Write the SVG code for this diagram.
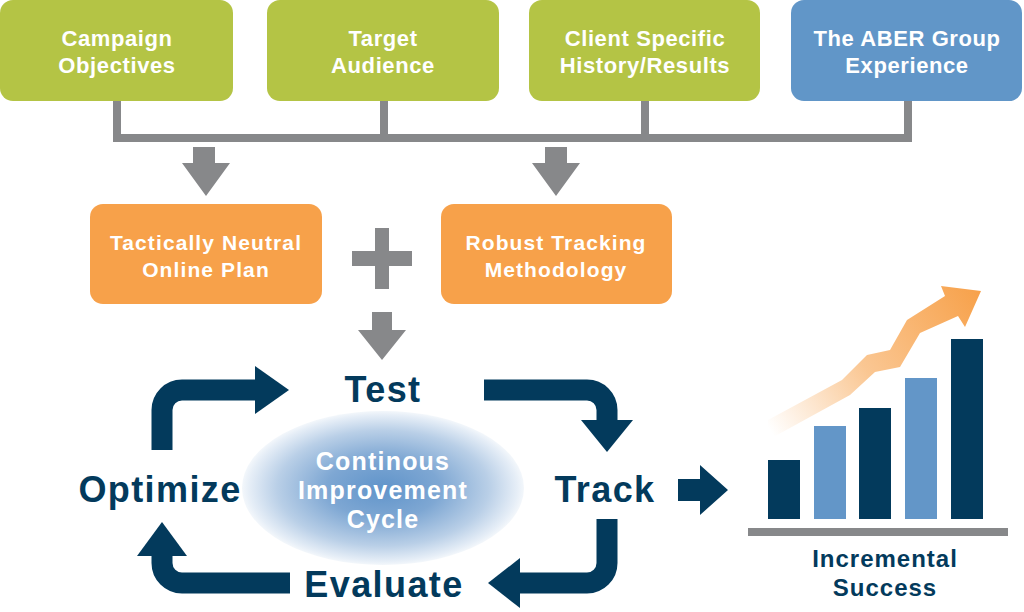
<svg xmlns="http://www.w3.org/2000/svg" width="1024" height="612" viewBox="0 0 1024 612">
<defs>
<style>
.lbl{font-family:"Liberation Sans",Arial,sans-serif;font-weight:bold;text-anchor:middle}
.top{font-size:22px;fill:#fff;letter-spacing:0.6px}
.mid{font-size:21px;fill:#fff;letter-spacing:1.1px}
.cyc{font-size:36px;fill:#033a5c;letter-spacing:1.4px}
.ell{font-size:25px;fill:#fff;letter-spacing:1.2px}
.inc{font-size:24px;fill:#033a5c;letter-spacing:1px}
.green{fill:#b4c445}
.blue{fill:#6196c8}
.orange{fill:#f7a14a}
.gray{fill:#87888a}
.navy{fill:#033a5c}
.lt{fill:#6396c8}
.bar{stroke:#033a5c;stroke-width:21;fill:none}
.conn{stroke:#87888a;stroke-width:8;fill:none}
</style>
<radialGradient id="eg" cx="0.5" cy="0.5" r="0.5">
<stop offset="0" stop-color="#6094ca"/>
<stop offset="0.4" stop-color="#7ea7d3"/>
<stop offset="0.75" stop-color="#b9cfe7"/>
<stop offset="0.95" stop-color="#e6eef7"/>
<stop offset="1" stop-color="#f3f7fb"/>
</radialGradient>
<linearGradient id="og" gradientUnits="userSpaceOnUse" x1="770" y1="430" x2="980" y2="290">
<stop offset="0" stop-color="#f7a14a" stop-opacity="0"/>
<stop offset="0.45" stop-color="#f7a14a" stop-opacity="0.6"/>
<stop offset="1" stop-color="#f7a14a" stop-opacity="1"/>
</linearGradient>
</defs>
<rect width="1024" height="612" fill="#fff"/>

<g id="connectors">
<path class="conn" d="M117,101 V138 H908 V101 M384,101 V138 M645,101 V138"/>
<polygon class="gray" points="193,147 215,147 215,163 230,163 206,196 182,163 193,163"/>
<polygon class="gray" points="545,147 567,147 567,163 580,163 556,196 532,163 545,163"/>
<g id="plus"><rect class="gray" x="352" y="251" width="60" height="15"/><rect class="gray" x="375" y="228" width="14" height="61"/></g>
<polygon class="gray" points="372,312 392,312 392,330 406,330 382,360 358,330 372,330"/>
<path class="bar" d="M162,450 V410 A20,20 0 0 1 182,390 H258"/>
<polygon class="navy" points="255,366 289,390 255,414"/>
<path class="bar" d="M484,390 H587 A20,20 0 0 1 607,410 V422"/>
<polygon class="navy" points="581,420 633,420 607,452"/>
<path class="bar" d="M607,519 V563 A20,20 0 0 1 587,583 H518"/>
<polygon class="navy" points="520,558 488,583 520,608"/>
<path class="bar" d="M290,583 H182 A20,20 0 0 1 162,563 V553"/>
<polygon class="navy" points="137,556 187,556 162,522"/>
<polygon class="navy" points="678,479 700,479 700,465 728,490 700,515 700,501 678,501"/>
</g>

<g id="campaign"><rect class="green" x="0" y="0" width="233" height="101" rx="13"/><text class="lbl top" x="117" y="46">Campaign</text><text class="lbl top" x="117" y="73">Objectives</text></g>
<g id="target"><rect class="green" x="267" y="0" width="232" height="101" rx="13"/><text class="lbl top" x="383" y="46">Target</text><text class="lbl top" x="383" y="73">Audience</text></g>
<g id="client"><rect class="green" x="529" y="0" width="231" height="101" rx="13"/><text class="lbl top" x="645" y="46">Client Specific</text><text class="lbl top" x="645" y="73">History/Results</text></g>
<g id="aber"><rect class="blue" x="791" y="0" width="231" height="101" rx="13"/><text class="lbl top" x="907" y="46">The ABER Group</text><text class="lbl top" x="907" y="73">Experience</text></g>

<g id="plan"><rect class="orange" x="90" y="204" width="232" height="100" rx="13"/><text class="lbl mid" x="206" y="250">Tactically Neutral</text><text class="lbl mid" x="206" y="277">Online Plan</text></g>
<g id="tracking"><rect class="orange" x="441" y="204" width="231" height="100" rx="13"/><text class="lbl mid" x="556" y="250">Robust Tracking</text><text class="lbl mid" x="556" y="277">Methodology</text></g>

<g id="cycle"><ellipse cx="383" cy="488" rx="141" ry="77" fill="url(#eg)"/><text class="lbl ell" x="383" y="470">Continous</text><text class="lbl ell" x="383" y="499">Improvement</text><text class="lbl ell" x="383" y="528">Cycle</text></g>
<g id="test"><text class="lbl cyc" x="383" y="402">Test</text></g>
<g id="optimize"><text class="lbl cyc" x="160" y="502">Optimize</text></g>
<g id="track"><text class="lbl cyc" x="605" y="502">Track</text></g>
<g id="evaluate"><text class="lbl cyc" x="384" y="597">Evaluate</text></g>

<g id="chart">
<polygon fill="url(#og)" points="768,420 842,380 867,355 890,350 907,320 945,296 941,286 981,291 965,327 958,316 920,333 900,367 875,372 850,395 768,440"/>
<rect class="navy" x="768" y="460" width="32" height="59"/>
<rect class="lt" x="814" y="426" width="32" height="93"/>
<rect class="navy" x="859" y="408" width="32" height="111"/>
<rect class="lt" x="905" y="378" width="32" height="141"/>
<rect class="navy" x="951" y="339" width="32" height="180"/>
<rect class="gray" x="748" y="528" width="260" height="8"/>
<text class="lbl inc" x="885" y="567">Incremental</text>
<text class="lbl inc" x="885" y="596">Success</text>
</g>
</svg>
